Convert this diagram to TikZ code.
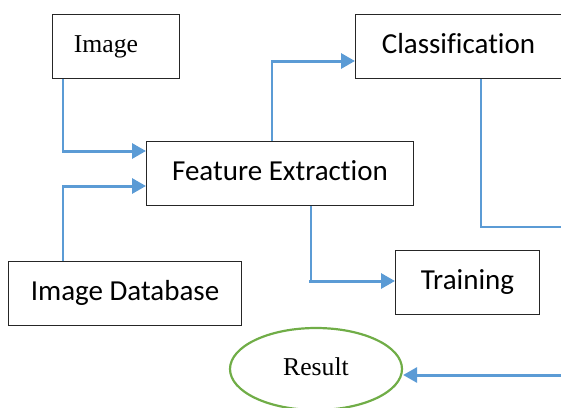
\documentclass[tikz,border=0pt]{standalone}
\usepackage{fontspec}
\setmainfont{Liberation Serif}
\newfontfamily\calibri[Ligatures=NoCommon]{Carlito}
\usetikzlibrary{arrows.meta,shapes.geometric}
\definecolor{flowblue}{HTML}{5B9BD5}
\definecolor{resgreen}{HTML}{70AD47}
\definecolor{boxline}{HTML}{262626}

\begin{document}
\begin{tikzpicture}[x=1pt,y=-1pt,
  box/.style={draw=boxline, line width=1pt, anchor=north west, minimum height=64pt,
    inner sep=0pt, text height=20pt, text depth=7pt,
    font=\fontsize{29}{34}\selectfont\calibri},
  serifbox/.style={box, text height=18pt, text depth=6pt,
    font=\fontsize{25.7}{30}\selectfont},
  link/.style={draw=flowblue, line width=1.2pt},
  flow/.style={draw=flowblue, line width=3pt, -{Triangle[length=14pt,width=15pt]}},
  result/.style={ellipse, draw=resgreen, line width=2.2pt, minimum width=172pt,
    minimum height=82pt, inner sep=0pt, text height=18pt, text depth=6pt,
    font=\fontsize{25.7}{30}\selectfont}]
\useasboundingbox (0,0) rectangle (561,407);

% blocks
\node[serifbox, minimum width=127pt] (img) at (52,14) {\hspace*{-20pt}Image};
\node[box, minimum width=267pt] (fe) at (146,141) {Feature Extraction};
\node[box, minimum width=233pt] (db) at (8,261) {Image Database};
\node[box, minimum width=206pt] (cls) at (355,14) {Classification};
\node[box, minimum width=144pt] (tr) at (395,250) {Training};
\node[result] (res) at (316,369) {Result};

% bends of the connectors
\coordinate (ia) at (63,151);
\coordinate (da) at (63,186);
\coordinate (fa) at (272,61);
\coordinate (fb) at (311,281);
\coordinate (ca) at (481,227);
\coordinate (edgeA) at (561,227);
\coordinate (edgeB) at (561,375);

% Image -> Feature Extraction
\draw[link] (img.south west) ++(11,0) -- (ia);
\draw[flow] (ia) ++(-1,0) -- (ia -| fe.west);

% Image Database -> Feature Extraction
\draw[link] (db.north west) ++(55,0) -- (da);
\draw[flow] (da) ++(-1,0) -- (da -| fe.west);

% Feature Extraction -> Classification
\draw[link] (fe.north west) ++(126,0) -- (fa);
\draw[flow] (fa) ++(-1,0) -- (fa -| cls.west);

% Feature Extraction -> Training
\draw[link] (fe.south west) ++(165,0) -- (fb);
\draw[flow] (fb) ++(-2,0) -- (fb -| tr.west);

% Classification output
\draw[link] (cls.south west) ++(126,0) -- (ca) -- (edgeA);

% incoming arrow to Result
\draw[flow] (edgeB) -- (edgeB -| res.east);
\end{tikzpicture}
\end{document}
